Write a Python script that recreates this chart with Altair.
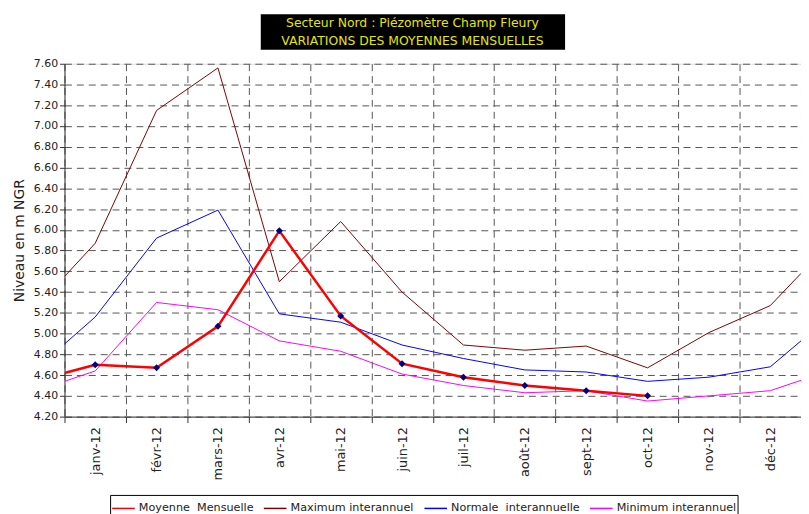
import altair as alt
import pandas as pd

months = ["janv-12", "févr-12", "mars-12", "avr-12", "mai-12", "juin-12",
          "juil-12", "août-12", "sept-12", "oct-12", "nov-12", "déc-12"]

series_names = ["Moyenne \u00a0Mensuelle", "Maximum interannuel",
                "Normale \u00a0interannuelle", "Minimum interannuel"]
series_colors = ["#FF0000", "#800000", "#0000FF", "#FF00FF"]

# values at the left edge of the plot, at each month, and at the right edge
moyenne_start = 4.62
moyenne = [4.70, 4.67, 5.07, 5.99, 5.17, 4.71, 4.58, 4.50, 4.45, 4.40, None, None]
moyenne_end = None

maximum_start = 5.55
maximum = [5.87, 7.15, 7.56, 5.50, 6.08, 5.40, 4.89, 4.84, 4.88, 4.67, 5.01, 5.27]
maximum_end = 5.58

normale_start = 4.90
normale = [5.16, 5.92, 6.19, 5.19, 5.11, 4.89, 4.76, 4.65, 4.63, 4.54, 4.58, 4.68]
normale_end = 4.93

minimum_start = 4.54
minimum = [4.64, 5.30, 5.23, 4.93, 4.83, 4.61, 4.50, 4.43, 4.45, 4.35, 4.40, 4.45]
minimum_end = 4.55

y_ticks = [round(4.2 + 0.2 * i, 2) for i in range(18)]
title_lines = ["Secteur Nord : Piézomètre Champ Fleury", "VARIATIONS DES MOYENNES MENSUELLES"]

rows = []
for name, start, vals, end in [
    (series_names[0], moyenne_start, moyenne, moyenne_end),
    (series_names[1], maximum_start, maximum, maximum_end),
    (series_names[2], normale_start, normale, normale_end),
    (series_names[3], minimum_start, minimum, minimum_end),
]:
    rows.append({"serie": name, "x": 0.0, "v": start, "mois": ""})
    for i, v in enumerate(vals):
        if v is not None:
            rows.append({"serie": name, "x": i + 0.5, "v": v, "mois": months[i]})
    if end is not None:
        rows.append({"serie": name, "x": 12.0, "v": end, "mois": ""})
df = pd.DataFrame(rows)
df["order"] = df["serie"].map({n: i for i, n in enumerate(series_names)})

FONT = "DejaVu Sans"
W, H = 743, 356

month_array = "[" + ",".join("'" + m + "'" for m in months) + "]"

x_enc = alt.X("x:Q", scale=alt.Scale(domain=[0, 12], nice=False, zero=False),
              axis=alt.Axis(values=list(range(13)), tickCount=13, title=None,
                            labelExpr=f"datum.value < 12 ? {month_array}[datum.value] : ''",
                            labelAngle=-90, labelOffset=31, labelFlush=False,
                            labelOverlap=False, labelPadding=4, tickSize=6,
                            grid=True, gridDash=[7, 5], gridColor="#555555",
                            labelFont=FONT, labelFontSize=13, labelColor="#222222",
                            domainColor="#333333", tickColor="#333333"))
y_enc = alt.Y("v:Q", scale=alt.Scale(domain=[4.2, 7.6], nice=False, zero=False),
              axis=alt.Axis(values=y_ticks, tickCount=18, format=".2f", title="Niveau en m NGR",
                            titleFont=FONT, titleFontSize=14, titleFontWeight="normal",
                            titleColor="#222222", titlePadding=7, labelOverlap=False,
                            labelFlush=False,
                            labelFont=FONT, labelFontSize=11, labelColor="#222222",
                            tickSize=5, grid=True, gridDash=[7, 5], gridColor="#555555",
                            domainColor="#333333", tickColor="#333333"))

base = alt.Chart(df)

legend_kw = dict(title=None, orient="none", direction="horizontal",
                 legendX=46, legendY=435, symbolType="stroke",
                 symbolSize=520, symbolStrokeWidth=1.5, labelFont=FONT, labelFontSize=11.3,
                 labelColor="#222222", strokeColor="#000000",
                 fillColor="#FFFFFF", padding=1, columnPadding=7,
                 labelOffset=3, labelLimit=300)

lines = base.transform_filter(alt.datum.serie != series_names[0]).mark_line(
    clip=True, strokeWidth=1
).encode(
    x=x_enc,
    y=y_enc,
    color=alt.Color("serie:N", scale=alt.Scale(domain=series_names, range=series_colors),
                    sort=series_names, legend=alt.Legend(**legend_kw)),
    order=alt.Order("order:Q"),
    detail="serie:N",
)

red = base.transform_filter(alt.datum.serie == series_names[0]).mark_line(
    clip=True, strokeWidth=2.5, color="#FF0000"
).encode(x="x:Q", y="v:Q", order="x:Q")

points = base.transform_filter(
    (alt.datum.serie == series_names[0]) & (alt.datum.mois != "")
).mark_point(shape="diamond", filled=True, size=50, color="#000080", opacity=1).encode(
    x="x:Q", y="v:Q"
)

title_df = pd.DataFrame({"t": title_lines, "i": [0, 1]})
box = alt.Chart(pd.DataFrame({"a": [0]})).mark_rect(color="#000000").encode(
    x=alt.value(198), x2=alt.value(505), y=alt.value(-50), y2=alt.value(-14)
)
title_text = alt.Chart(title_df).mark_text(
    font=FONT, fontSize=12.5, color="#E6E600", align="center", baseline="middle"
).encode(
    x=alt.value(351), y=alt.value(-41), text="t:N"
).transform_filter(alt.datum.i == 0)
title_text2 = alt.Chart(title_df).mark_text(
    font=FONT, fontSize=12.5, color="#E6E600", align="center", baseline="middle"
).encode(
    x=alt.value(351), y=alt.value(-23), text="t:N"
).transform_filter(alt.datum.i == 1)

chart = alt.layer(lines, red, points, box, title_text, title_text2).resolve_scale(
    y="shared", x="shared"
).properties(
    width=W, height=H,
    autosize=alt.AutoSizeParams(type="none"),
    padding={"left": 57, "top": 54, "right": 0, "bottom": 96},
).configure_view(stroke="#999999", strokeWidth=1).configure(background="white")

chart.save("out.html", embed_options={"renderer": "svg", "actions": False})
